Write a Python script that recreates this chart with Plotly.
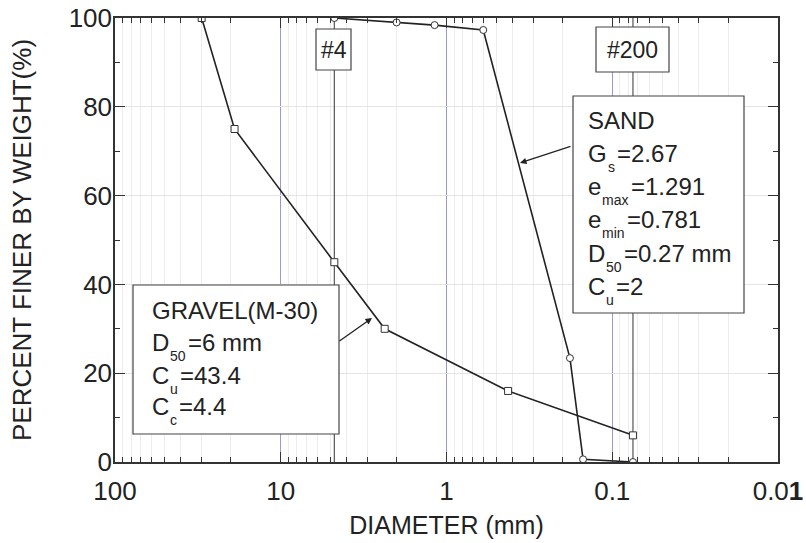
import plotly.graph_objects as go

# ---------------- data ----------------
gravel_d = [30, 19, 4.75, 2.36, 0.425, 0.075]
gravel_p = [100, 75, 45, 30, 16, 6]

sand_d = [4.75, 2.0, 1.18, 0.6, 0.18, 0.15, 0.075]
sand_p = [100, 99.0, 98.4, 97.3, 23.4, 0.6, 0]

sieve_d = [4.75, 0.075]
sieve_names = ["#4", "#200"]

x_tickvals = [100, 10, 1, 0.1, 0.01]
x_ticktext = ["100", "10", "1", "0.1", "0.0<b>1</b>"]
y_tickvals = [0, 20, 40, 60, 80, 100]

sand_title = "SAND"
sand_main = ["G", "e", "e", "D", "C"]
sand_sub = ["s", "max", "min", "50", "u"]
sand_val = ["=2.67", "=1.291", "=0.781", "=0.27 mm", "=2"]

gravel_title = "GRAVEL(M-30)"
gravel_main = ["D", "C", "C"]
gravel_sub = ["50", "u", "c"]
gravel_val = ["=6 mm", "=43.4", "=4.4"]

FONT = "Liberation Sans, Arial, sans-serif"
TXT = "#222"

# ---------------- figure ----------------
fig = go.Figure()

for d, name in zip(sieve_d, sieve_names):
    fig.add_trace(go.Scatter(x=[d, d], y=[0, 100], mode="lines",
                             line=dict(color="#555", width=1.2),
                             hoverinfo="skip", showlegend=False))

fig.add_trace(go.Scatter(x=gravel_d, y=gravel_p, mode="lines+markers",
                         line=dict(color="#222", width=1.6),
                         marker=dict(symbol="square", size=7, color="white",
                                     line=dict(color="#333", width=1)),
                         name="Gravel", showlegend=False))
fig.add_trace(go.Scatter(x=sand_d, y=sand_p, mode="lines+markers",
                         line=dict(color="#222", width=1.6),
                         marker=dict(symbol="circle", size=7, color="white",
                                     line=dict(color="#333", width=1)),
                         name="Sand", showlegend=False))

# plot area in pixels (for paper coords)
X0, X1, Y0, Y1 = 115, 778, 18, 462
def px(x):
    return (x - X0) / (X1 - X0)
def py(y):
    return (Y1 - y) / (Y1 - Y0)

shapes = []
annotations = []

def box(xa, xb, ya, yb):
    shapes.append(dict(type="rect", xref="paper", yref="paper",
                       x0=px(xa), x1=px(xb), y0=py(yb), y1=py(ya),
                       line=dict(color="#444", width=1.2),
                       fillcolor="white", layer="above"))

def text(x, y, t, size, anchor="left"):
    annotations.append(dict(xref="paper", yref="paper", x=px(x), y=py(y),
                            text=t, showarrow=False,
                            font=dict(size=size, color=TXT, family=FONT),
                            xanchor=anchor, yanchor="middle"))

# approximate Arial advance widths (em) for placing subscripts
W = {"G": .778, "e": .556, "D": .722, "C": .722, "s": .5, "m": .833, "a": .556,
     "x": .5, "i": .222, "n": .556, "5": .556, "0": .556, "u": .556, "c": .5}
def tw(s, size):
    return sum(W.get(ch, .556) for ch in s) * size

MAIN, SUB = 24, 14

def sub_line(x, y, main, sub, val):
    text(x, y, main, MAIN)
    xs = x + tw(main, MAIN) + 1
    text(xs, y + 14, sub, SUB)
    xv = xs + tw(sub, SUB) + 2
    text(xv, y, val, MAIN)

# sieve boxes
box(316, 351, 29, 70)
text(333.5, 49.5, sieve_names[0], 23, "center")
box(596, 669, 27, 72)
text(632.5, 49.5, sieve_names[1], 23, "center")

# sand box
box(573, 744, 96, 313)
text(586, 121, sand_title, MAIN)
for m, s, v, yy in zip(sand_main, sand_sub, sand_val, [153, 186, 219, 253, 286]):
    sub_line(586, yy, m, s, v)

# gravel box
box(133, 339, 285, 434)
text(150, 310, gravel_title, MAIN)
for m, s, v, yy in zip(gravel_main, gravel_sub, gravel_val, [342, 375, 406]):
    sub_line(150, yy, m, s, v)

# arrows
annotations.append(dict(xref="paper", yref="paper", x=px(520), y=py(163),
                        ax=52, ay=-17, text="", showarrow=True,
                        arrowhead=2, arrowsize=1, arrowwidth=1.3, arrowcolor="#222",
                        standoff=0, startstandoff=0))
annotations.append(dict(xref="paper", yref="paper", x=px(372), y=py(318),
                        ax=-34, ay=24, text="", showarrow=True,
                        arrowhead=2, arrowsize=1, arrowwidth=1.3, arrowcolor="#222",
                        standoff=0, startstandoff=0))

minor_x = [m * 10 ** e for e in (-2, -1, 0, 1) for m in range(2, 10)]

fig.update_layout(
    width=806, height=543,
    margin=dict(l=X0, r=806 - X1, t=Y0, b=543 - Y1, autoexpand=False),
    paper_bgcolor="white", plot_bgcolor="white",
    font=dict(family=FONT, color=TXT),
    shapes=shapes, annotations=annotations,
    xaxis=dict(type="log", range=[2, -2], autorange=False, automargin=False,
               tickmode="array", tickvals=x_tickvals, ticktext=x_ticktext,
               ticks="inside", ticklen=10, tickwidth=1.3, tickcolor="#333",
               tickfont=dict(size=26, color=TXT, family=FONT), ticklabelstandoff=5,
               showline=True, linecolor="#333", linewidth=1.5, mirror="allticks",
               showgrid=True, gridcolor="#9a9acc", gridwidth=1,
               minor=dict(tickmode="array", tickvals=minor_x, ticks="inside",
                          ticklen=5, tickwidth=1, tickcolor="#333",
                          showgrid=True, gridcolor="#ececec", gridwidth=1),
               title=dict(text="DIAMETER (mm)", font=dict(size=25, color=TXT, family=FONT),
                          standoff=12),
               zeroline=False),
    yaxis=dict(range=[0, 100], autorange=False, automargin=False,
               tickmode="array", tickvals=y_tickvals,
               ticks="inside", ticklen=10, tickwidth=1.3, tickcolor="#333",
               tickfont=dict(size=26, color=TXT, family=FONT), ticklabelstandoff=-4,
               showline=True, linecolor="#333", linewidth=1.5, mirror="allticks",
               showgrid=True, gridcolor="#e4e4e4", gridwidth=1,
               minor=dict(tickmode="array", tickvals=[10, 30, 50, 70, 90], ticks="inside",
                          ticklen=5, tickwidth=1, tickcolor="#333", showgrid=False),
               title=dict(text="PERCENT FINER BY WEIGHT(%)",
                          font=dict(size=26, color=TXT, family=FONT), standoff=30),
               zeroline=False),
)

fig.write_html("out.html", config={"displayModeBar": False},
               post_script="document.body.style.margin='0';")
